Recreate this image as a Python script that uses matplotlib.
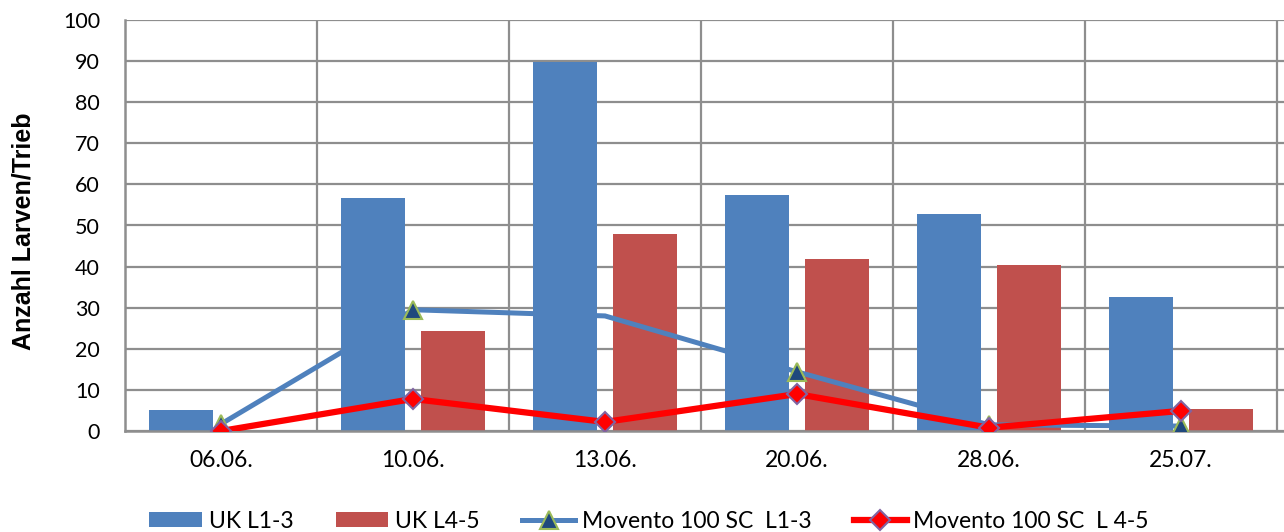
import numpy as np
import matplotlib
matplotlib.use("Agg")
import matplotlib.pyplot as plt
from matplotlib.ticker import FixedLocator

# sampling dates and larvae counts per shoot
dates = ["06.06.", "10.06.", "13.06.", "20.06.", "28.06.", "25.07."]
uk_l13 = [5.1, 56.7, 89.8, 57.4, 52.8, 32.6]
uk_l45 = [0.0, 24.3, 47.9, 41.8, 40.4, 5.4]
movento_l13 = [1.7, 29.5, 28.0, 14.4, 1.5, 1.2]
movento_l45 = [0.0, 7.8, 2.2, 9.0, 0.8, 4.9]

labels = ["UK L1-3", "UK L4-5", "Movento 100 SC  L1-3", "Movento 100 SC  L 4-5"]

BLUE = "#4F81BD"
DARKRED = "#C0504D"
GRID = "#8E8E8E"

plt.rcParams["font.family"] = ["Lato", "DejaVu Sans"]

fig = plt.figure(figsize=(12.84, 5.32), dpi=100)
ax = fig.add_axes([125 / 1284, 1 - 431 / 532, 1 - 125 / 1284, (431 - 20) / 532])

x = np.arange(len(dates))
w = 0.333
off = 0.208

b1 = ax.bar(x - off, uk_l13, width=w, color=BLUE, zorder=2)
b2 = ax.bar(x + off, uk_l45, width=w, color=DARKRED, zorder=2)

# no marker visible on the 13.06. point of the L1-3 series
l1, = ax.plot(x, movento_l13, color=BLUE, lw=3.6, marker="^", ms=13,
              markerfacecolor="#1F497D", markeredgecolor="#9BBB59", markeredgewidth=1.5,
              markevery=[0, 1, 3, 4, 5], zorder=3, solid_joinstyle="miter")
l2, = ax.plot(x, movento_l45, color="#FF0000", lw=4.5, marker="D", ms=10.5,
              markerfacecolor="#FF0000", markeredgecolor="#8064A2", markeredgewidth=1.5,
              zorder=4)

ax.set_xlim(-0.5, 5.5 + 7 / 192)
ax.set_ylim(0, 100)
ax.set_yticks(np.arange(0, 101, 10))
ax.set_xticks(x)
ax.set_xticklabels(dates)
ax.xaxis.set_minor_locator(FixedLocator(np.arange(0.5, 6, 1)))

ax.grid(axis="y", color=GRID, lw=1.6, zorder=0)
ax.grid(axis="x", which="minor", color=GRID, lw=1.6, zorder=0)
ax.set_axisbelow(True)

for s in ["top", "right"]:
    ax.spines[s].set_visible(False)
for s in ["left", "bottom"]:
    ax.spines[s].set_color(GRID)
    ax.spines[s].set_linewidth(1.8)

ax.tick_params(axis="y", length=0, pad=18, labelsize=15.5)
ax.tick_params(axis="x", which="both", length=0, pad=14, labelsize=16.5)

fig.text(24 / 1284, 1 - 231 / 532, "Anzahl Larven/Trieb", rotation=90,
         ha="center", va="center", fontsize=18, fontweight="bold",
         family=["Liberation Sans", "DejaVu Sans"])

fig.legend([b1, b2, l1, l2], labels, loc="center", ncol=4,
           bbox_to_anchor=(649 / 1284, 1 - 521 / 532), frameon=False,
           fontsize=16.5, handlelength=2.3, handleheight=0.58,
           handletextpad=0.3, columnspacing=1.85, borderpad=0)

fig.savefig("out.png", dpi=100)
